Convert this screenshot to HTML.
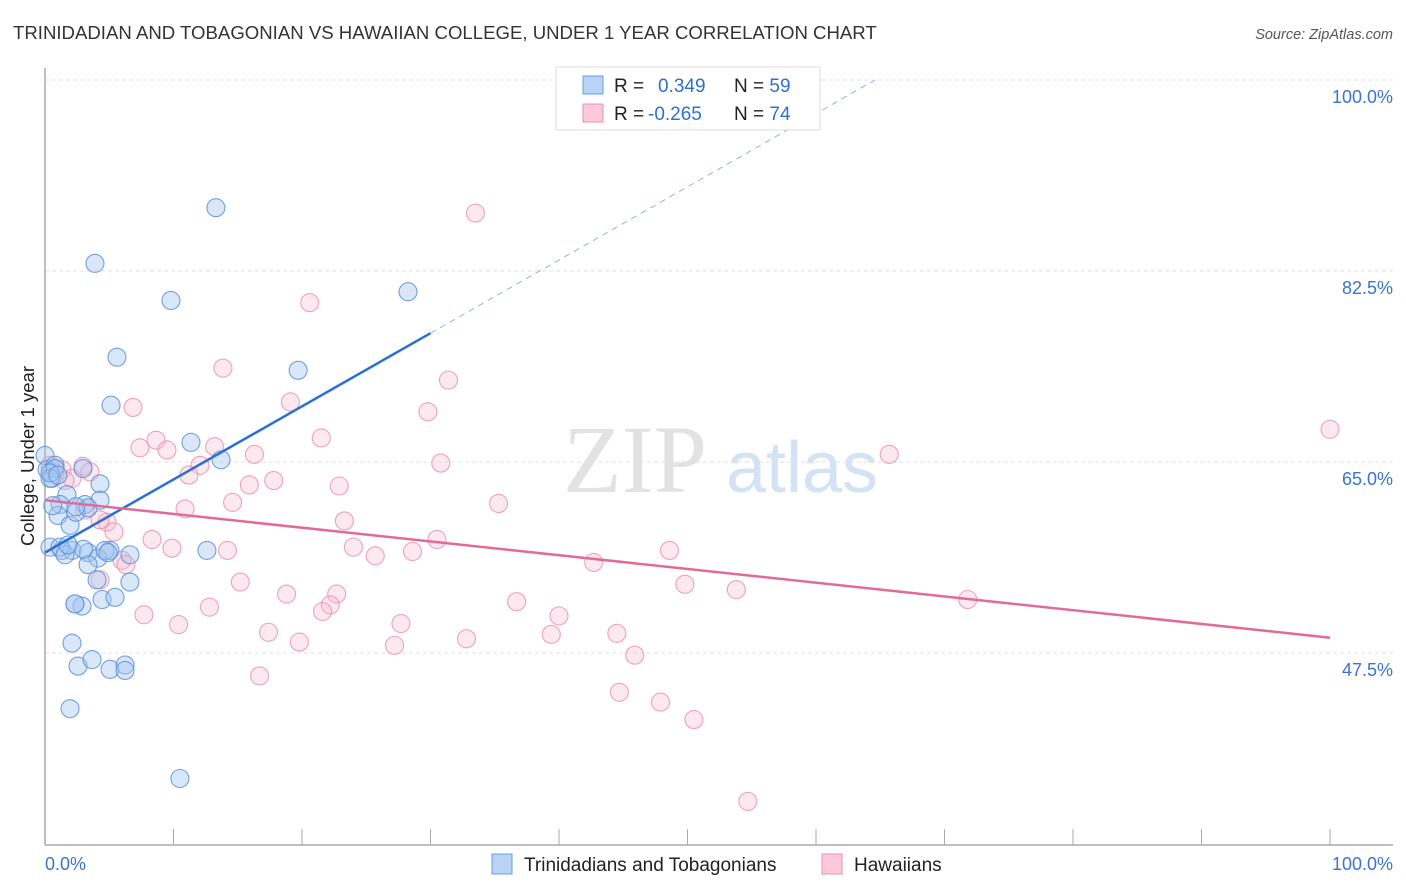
<!DOCTYPE html>
<html><head><meta charset="utf-8"><style>
body{margin:0;background:#fff;font-family:"Liberation Sans",sans-serif;}
#wrap{position:relative;width:1406px;height:892px;overflow:hidden;}
</style></head><body>
<div id="wrap">
<svg id="chart" width="1406" height="892" style="position:absolute;left:0;top:0">
<text x="13" y="39" font-size="18.6" fill="#333">TRINIDADIAN AND TOBAGONIAN VS HAWAIIAN COLLEGE, UNDER 1 YEAR CORRELATION CHART</text>
<text x="1393" y="39" font-size="14.5" fill="#555" font-style="italic" text-anchor="end">Source: ZipAtlas.com</text>
<text x="635" y="492" font-size="96" fill="#e2e2e2" font-family="Liberation Serif" text-anchor="middle">ZIP</text>
<text x="802" y="492" font-size="72" fill="#d3e2f4" text-anchor="middle">atlas</text>
<g id="grid"></g><g id="axes"></g><g id="pts"></g><g id="trends"></g>
<text transform="translate(34,456) rotate(-90)" font-size="18.5" fill="#222" text-anchor="middle">College, Under 1 year</text>
<g>
<rect x="556" y="67" width="264" height="63" fill="#fff" stroke="#ddd"/>
<rect x="583" y="76" width="20" height="18" fill="#b8d3f5" stroke="#6a9ee0"/>
<rect x="583" y="104" width="20" height="18" fill="#fbc9d9" stroke="#e891ae"/>
<text x="614" y="92" font-size="19" fill="#222">R = <tspan fill="#2f6fd0" x="658">0.349</tspan><tspan fill="#222" x="734">N = </tspan><tspan fill="#2f6fd0">59</tspan></text>
<text x="614" y="120" font-size="19" fill="#222">R = <tspan fill="#2f6fd0" x="648">-0.265</tspan><tspan fill="#222" x="734">N = </tspan><tspan fill="#2f6fd0">74</tspan></text>
</g>
<g>
<rect x="492" y="854" width="20" height="20" fill="#b8d3f5" stroke="#6a9ee0"/>
<text x="524" y="871" font-size="19" fill="#222">Trinidadians and Tobagonians</text>
<rect x="822" y="854" width="20" height="20" fill="#fbc9d9" stroke="#e891ae"/>
<text x="854" y="871" font-size="19" fill="#222">Hawaiians</text>
</g>
</svg>
</div>
<script>
const blueX=[0,0.16,0.54,0.78,2.96,1.71,4.28,4.28,3.11,1.17,1.01,1.95,2.41,3.35,0.39,1.32,2.1,3.35,5.06,6.61,4.12,3.35,4.05,6.61,2.88,2.33,4.44,5.45,2.1,2.57,3.66,5.06,6.23,6.23,1.95,10.5,3.89,9.8,5.6,5.14,13.3,28.25,19.7,11.36,13.7,12.6,1.17,1.56,0.78,0.39,4.67,2.33,0.4,1.0,2.4,3.0,0.6,1.8,4.9];
const blueY=[65.6,64.3,63.5,64.7,64.4,62.0,63.0,61.5,61.1,61.1,60.1,59.2,60.4,60.8,57.2,56.9,56.9,56.7,56.9,56.5,56.2,55.6,54.2,54.0,51.8,52.0,52.4,52.6,48.4,46.3,46.9,46.0,46.4,45.9,42.4,36.0,83.2,79.8,74.6,70.2,88.3,80.6,73.4,66.8,65.2,56.9,57.2,56.5,64.4,63.5,56.9,52.0,64.0,63.8,60.9,57.0,61.0,57.4,56.7];
const pinkX=[33.5,20.6,13.85,31.4,19.1,6.85,29.8,21.5,8.64,7.39,9.49,13.2,16.3,12.06,11.2,30.8,65.7,100,17.8,15.9,22.9,14.6,10.9,35.3,23.3,4.82,5.37,8.33,9.88,14.2,24.0,25.7,28.6,30.5,48.6,42.7,5.99,6.3,4.28,15.2,49.8,53.8,18.8,22.7,22.2,21.6,12.8,36.7,40.0,71.8,7.7,10.4,17.4,27.7,19.8,27.2,32.8,39.4,44.5,45.9,44.7,47.9,50.5,54.7,16.7,0.78,1.32,2.1,2.96,0.39,3.11,4.28,1.56,3.5];
const pinkY=[87.8,79.6,73.6,72.5,70.5,70.0,69.6,67.2,67.0,66.3,66.1,66.4,65.7,64.7,63.8,64.9,65.7,68.0,63.3,62.9,62.8,61.3,60.7,61.2,59.6,59.5,58.6,57.9,57.1,56.9,57.2,56.4,56.8,57.9,56.9,55.8,56.0,55.6,54.2,54.0,53.8,53.3,52.9,52.9,51.9,51.3,51.7,52.2,50.9,52.4,51.0,50.1,49.4,50.2,48.5,48.2,48.8,49.2,49.3,47.3,43.9,43.0,41.4,33.9,45.4,64.4,64.3,63.5,64.6,64.7,60.6,59.7,63.3,64.1];
const yTicks=[100,82.5,65,47.5];
const yTickLabels=["100.0%","82.5%","65.0%","47.5%"];
const xTicks=[0,10,20,30,40,50,60,70,80,90,100];
const blueTrend=[[0,56.7],[30,76.8]];
const blueTrendExt=[[30,76.8],[64.6,100]];
const pinkTrend=[[0,61.5],[100,48.9]];
const X=v=>45+v*12.85, Y=v=>80+(100-v)*10.914;
const NS="http://www.w3.org/2000/svg";
function mk(parent,tag,attrs){const e=document.createElementNS(NS,tag);for(const k in attrs)e.setAttribute(k,attrs[k]);document.getElementById(parent).appendChild(e);return e;}
yTicks.forEach((t,i)=>{
 const g=mk('grid','line',{x1:45,x2:1393,y1:Y(t),y2:Y(t),stroke:'#e2e2e2','stroke-dasharray':'4,3'});
 
 
 const l=mk('grid','text',{x:1393,y:Y(t)+23,'font-size':18,fill:'#3a74d0','text-anchor':'end'});
 l.textContent=yTickLabels[i];
 
 
});
const ya=mk('axes','line',{x1:45,x2:45,y1:68,y2:845,stroke:'#aaa','stroke-width':1.5});


const xa=mk('axes','line',{x1:45,x2:1393,y1:845,y2:845,stroke:'#aaa','stroke-width':1.5});


xTicks.forEach(t=>{
 const k=mk('axes','line',{x1:X(t),x2:X(t),y1:829,y2:845,stroke:'#aaa'});
 
 
});
const x0=mk('axes','text',{x:45,y:870,'font-size':18,fill:'#3a74d0'});x0.textContent="0.0%";


const x1=mk('axes','text',{x:1393,y:870,'font-size':18,fill:'#3a74d0','text-anchor':'end'});x1.textContent="100.0%";


pinkX.forEach((v,i)=>{
 const c=mk('pts','circle',{cx:X(v),cy:Y(pinkY[i]),r:9,fill:'rgba(246,182,204,0.32)',stroke:'rgba(232,140,172,0.8)','stroke-width':1.1});
 
 
});
blueX.forEach((v,i)=>{
 const c=mk('pts','circle',{cx:X(v),cy:Y(blueY[i]),r:9,fill:'rgba(165,198,240,0.42)',stroke:'rgba(90,145,220,0.85)','stroke-width':1.1});
 
 
});
const bt=mk('trends','line',{x1:X(blueTrend[0][0]),y1:Y(blueTrend[0][1]),x2:X(blueTrend[1][0]),y2:Y(blueTrend[1][1]),stroke:'#2a6fd6','stroke-width':2.5});


const be=mk('trends','line',{x1:X(blueTrendExt[0][0]),y1:Y(blueTrendExt[0][1]),x2:X(blueTrendExt[1][0]),y2:Y(blueTrendExt[1][1]),stroke:'#8fb3e6','stroke-width':1,'stroke-dasharray':'6,5'});


const pt=mk('trends','line',{x1:X(pinkTrend[0][0]),y1:Y(pinkTrend[0][1]),x2:X(pinkTrend[1][0]),y2:Y(pinkTrend[1][1]),stroke:'#e26a98','stroke-width':2.5});


</script>
</body></html>
